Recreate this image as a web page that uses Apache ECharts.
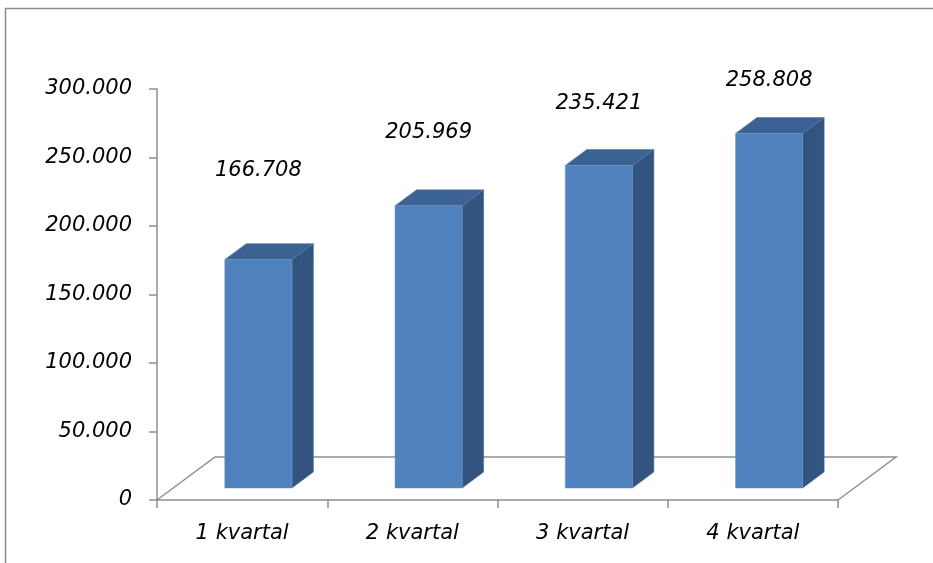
<!DOCTYPE html>
<html>
<head>
<meta charset="utf-8">
<script src="https://cdn.jsdelivr.net/npm/echarts@6/dist/echarts.min.js"></script>
<style>
html,body{margin:0;padding:0;background:#fff;}
#chart{width:933px;height:563px;}
</style>
</head>
<body>
<div id="chart"></div>
<script>
// ---- data ----
const categories = ['1 kvartal', '2 kvartal', '3 kvartal', '4 kvartal'];
const values = [166708, 205969, 235421, 258808];
const yMin = 0;
const yMax = 300000;
const yInterval = 50000;

// ---- helpers ----
function fmtThousands(v) {
  return String(v).replace(/\B(?=(\d{3})+(?!\d))/g, '.');
}

const FONT = 'DejaVu Sans';
const axisGray = '#8a8f96';
// 3D depth vector of the floor (from front edge to back edge)
const DEPTH_X = 58, DEPTH_Y = -43;
const FRONT_F = 0.28, BACK_F = 0.65;

const chart = echarts.init(document.getElementById('chart'), null, {renderer: 'canvas'});

const option = {
  animation: false,
  backgroundColor: '#ffffff',
  graphic: [{
    type: 'polyline',
    shape: {points: [[5.5, 600], [5.5, 8.5], [940, 8.5]]},
    style: {fill: 'none', stroke: '#8c8c8c', lineWidth: 1.5},
    silent: true,
    z: -10
  }],
  grid: {left: 157, right: 95, top: 89, bottom: 63, containLabel: false},
  xAxis: {
    type: 'category',
    data: categories,
    boundaryGap: true,
    axisLine: {show: true, lineStyle: {color: axisGray, width: 1.5}},
    axisTick: {show: true, length: 8, alignWithLabel: false, lineStyle: {color: axisGray, width: 1.5}},
    axisLabel: {
      margin: 23,
      color: '#000',
      fontFamily: FONT,
      fontStyle: 'italic',
      fontSize: 21
    },
    splitLine: {show: false}
  },
  yAxis: {
    type: 'value',
    min: yMin, max: yMax, interval: yInterval,
    axisLine: {show: true, lineStyle: {color: axisGray, width: 1.5}},
    axisTick: {show: true, length: 8, lineStyle: {color: axisGray, width: 1.5}},
    axisLabel: {
      margin: 25,
      color: '#000',
      fontFamily: FONT,
      fontStyle: 'italic',
      fontSize: 21,
      formatter: fmtThousands
    },
    splitLine: {show: false}
  },
  series: [
    {
      // 3D floor
      type: 'custom',
      silent: true,
      z: 1,
      data: [[0, 0]],
      renderItem: function (params, api) {
        const cs = params.coordSys;
        const x0 = cs.x, x1 = cs.x + cs.width;
        const y0 = api.coord([0, yMin])[1];
        return {
          type: 'polyline',
          shape: {points: [
            [x0, y0],
            [x0 + DEPTH_X, y0 + DEPTH_Y],
            [x1 + DEPTH_X, y0 + DEPTH_Y],
            [x1, y0]
          ]},
          style: {stroke: axisGray, lineWidth: 1.5, fill: 'none'}
        };
      }
    },
    {
      type: 'custom',
      z: 2,
      data: values.map((v, i) => [i, v]),
      encode: {x: 0, y: 1},
      renderItem: function (params, api) {
        const idx = api.value(0);
        const val = api.value(1);
        const base = api.coord([idx, yMin]);
        const top = api.coord([idx, val]);
        const band = api.size([1, 0])[0];
        const bw = band * 0.394;
        const fdx = DEPTH_X * FRONT_F, fdy = DEPTH_Y * FRONT_F;
        const ddx = DEPTH_X * (BACK_F - FRONT_F), ddy = DEPTH_Y * (BACK_F - FRONT_F);
        const L = base[0] - bw / 2 + fdx;
        const R = base[0] + bw / 2 + fdx;
        const topF = top[1] + fdy;
        const botF = base[1] + fdy;
        const labelY = 0.71 * topF - 14;
        return {
          type: 'group',
          children: [
            {
              type: 'polygon',
              shape: {points: [[R, topF], [R + ddx, topF + ddy], [R + ddx, botF + ddy], [R, botF]]},
              style: {fill: '#33547f', stroke: '#4a6e9c', lineWidth: 0.6}
            },
            {
              type: 'polygon',
              shape: {points: [[L, topF], [L + ddx, topF + ddy], [R + ddx, topF + ddy], [R, topF]]},
              style: {fill: '#3c6294', stroke: '#5578a6', lineWidth: 0.6}
            },
            {
              type: 'rect',
              shape: {x: L, y: topF, width: R - L, height: botF - topF},
              style: {fill: '#4f81bd', stroke: '#6d95c8', lineWidth: 0.6}
            },
            {
              type: 'text',
              style: {
                x: (L + R) / 2,
                y: labelY,
                text: fmtThousands(val),
                fill: '#000',
                font: 'italic 21px "' + FONT + '"',
                align: 'center',
                verticalAlign: 'middle'
              }
            }
          ]
        };
      }
    }
  ]
};

chart.setOption(option);
</script>
</body>
</html>
